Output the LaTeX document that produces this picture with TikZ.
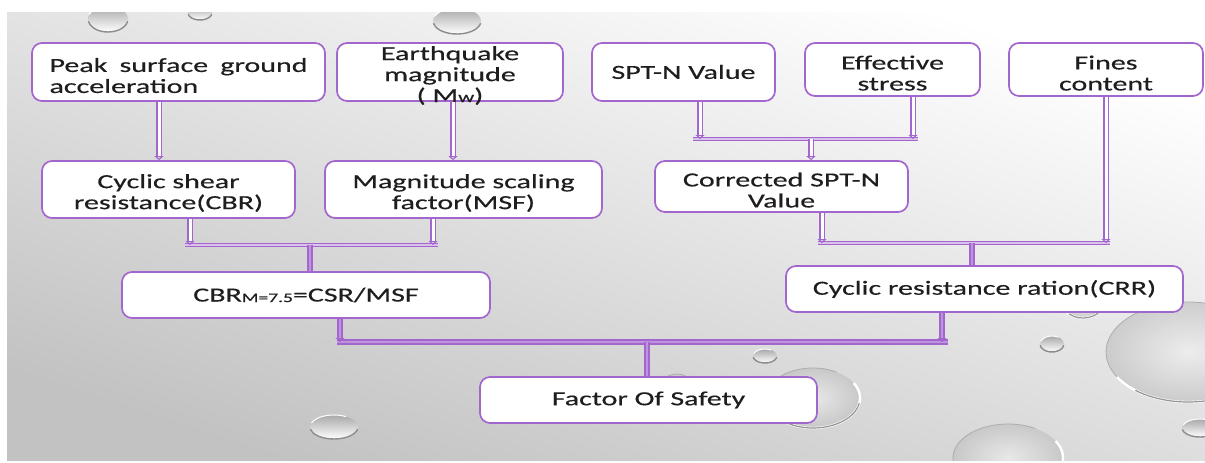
\documentclass[tikz,border=0pt]{standalone}
\usepackage{fontspec}
\setmainfont{Carlito}[FakeStretch=1.5, FakeBold=0.4]
\usetikzlibrary{arrows.meta,calc}
\definecolor{lin}{RGB}{162,102,206}
\definecolor{ink}{RGB}{30,30,30}

% small opaque water drop: centre, x radius, y radius
\newcommand\smalldrop[4]{%
  \shade[top color=black!34, bottom color=white] (#1,#2) ellipse [x radius=#3, y radius=#4];
  \draw[black!45, line width=1.4pt] ($(#1,#2)+(10:#3 and #4)$) arc [start angle=10, end angle=170, x radius=#3, y radius=#4];
  \draw[white, line width=1pt] ($(#1,#2)+(200:#3 and #4)$) arc [start angle=200, end angle=300, x radius=#3, y radius=#4];
}
% large clear bubble
\newcommand\bigdrop[4]{%
  \shade[inner color=black!6, outer color=black!24, opacity=.7] (#1,#2) ellipse [x radius=#3, y radius=#4];
  \draw[black!32, line width=.8pt] ($(#1,#2)+(150:#3 and #4)$) arc [start angle=150, end angle=300, x radius=#3, y radius=#4];
  \draw[white, line width=2.4pt] ($(#1,#2)+(330:#3 and #4)$) arc [start angle=330, end angle=510, x radius=#3, y radius=#4];
  \draw[black!42, line width=1.2pt] ($(#1,#2)+(10:#3 and #4)$) arc [start angle=10, end angle=130, x radius=#3, y radius=#4];
}
% first line strut: pushes multi-line labels a little lower in their boxes
\newcommand\lowstrut{\rule{0pt}{21pt}}

\begin{document}
\begin{tikzpicture}[x=1pt, y=-1pt,
  box/.style={draw=lin, line width=1.7pt, fill=white, rounded corners=10pt,
    text=ink, inner sep=0pt, align=center, font=\fontsize{20}{21}\selectfont},
  pipe/.style={draw=lin, line width=1.7pt, double=white, double distance=3pt},
  rod/.style={draw=lin, line width=1.9pt, double=lin!70, double distance=1.8pt},
  bar/.style={draw=lin, line width=1.4pt, double=lin!40, double distance=1.6pt},
  tip/.style={-{Triangle[open, length=4pt, width=9pt]}}
]
\useasboundingbox (0,0) rectangle (1205,463);
\fill[white] (0,0) rectangle (1205,463);
% slide background
\shade[top color=white, bottom color=black!24, shading angle=-18] (7,12) rectangle (1205,460);

\begin{scope}
  \clip (7,12) rectangle (1205,460);
  \smalldrop{108}{19}{20}{13}
  \smalldrop{200}{13}{12}{7}
  \smalldrop{457}{21}{24}{13}
  \smalldrop{334}{427}{24}{12}
  \smalldrop{765}{356}{12}{7}
  \smalldrop{1052}{344}{12}{8}
  \smalldrop{1200}{428}{18}{9}
  \bigdrop{813}{398}{47}{30}
  \bigdrop{677}{386}{16}{12}
  \bigdrop{1083}{300}{22}{18}
  \bigdrop{1188}{352}{82}{50}
  \bigdrop{1008}{458}{55}{34}
\end{scope}

% first row: inputs
\node[box, minimum width=293pt, minimum height=58pt] (pga) at (178.5,72)
  {\lowstrut\makebox[258pt][s]{Peak surface ground}\\\makebox[258pt][l]{acceleration}};
\node[box, minimum width=226pt, minimum height=58pt] (eqm) at (450,72)
  {\parbox[c][40pt][c]{210pt}{\centering\lowstrut Earthquake\\magnitude\\( M{\fontsize{15}{15}\selectfont w})}};
\node[box, minimum width=183pt, minimum height=58pt] (spt) at (683.5,72) {SPT-N Value};
\node[box, minimum width=175pt, minimum height=53pt] (eff) at (892.5,69.5) {\lowstrut Effective\\stress};
\node[box, minimum width=194pt, minimum height=53pt] (fin) at (1106,69.5) {\lowstrut Fines\\content};

% second row
\node[box, minimum width=253pt, minimum height=57pt] (csr) at (168.5,189.5) {\lowstrut Cyclic shear\\resistance(CBR)};
\node[box, minimum width=277pt, minimum height=57pt] (msf) at (463.5,189.5) {\lowstrut Magnitude scaling\\factor(MSF)};
\node[box, minimum width=253pt, minimum height=51pt] (cor) at (781.5,186.5) {\lowstrut Corrected SPT-N\\Value};

% third row
\node[box, minimum width=368pt, minimum height=46pt] (cbm) at (306,295)
  {CBR\raisebox{-.5pt}{\fontsize{13}{13}\selectfont M=7.5}=CSR/MSF};
\node[box, minimum width=397pt, minimum height=46pt] (crr) at (984.5,289) {Cyclic resistance ration(CRR)};

% result
\node[box, minimum width=337pt, minimum height=46pt] (fos) at (648.5,400) {Factor Of Safety};

% junction points of the collecting bars
\coordinate (aL) at (693,139);  \coordinate (aR) at (918,139);  \coordinate (jA) at (811,139);
\coordinate (bL) at (185,245);  \coordinate (bR) at (438,245);  \coordinate (jB) at (310,245);
\coordinate (cL) at (818,243);  \coordinate (cR) at (1110,243); \coordinate (jC) at (972,243);
\coordinate (dL) at (337,342);  \coordinate (dR) at (948,342);  \coordinate (jD) at (647,342);
% columns of the feeding pipes
\coordinate (k1) at (159,0);  \coordinate (k2) at (453,0);
\coordinate (k3) at (700,0);  \coordinate (k4) at (913,0);
\coordinate (k6) at (190,0);  \coordinate (k7) at (433,0);
\coordinate (k9) at (822,0);  \coordinate (k10) at (1106,0);
\coordinate (k12) at (340,0); \coordinate (k13) at (942,0);

% bars
\draw[bar] (aL) -- (aR);
\draw[bar] (bL) -- (bR);
\draw[bar] (cL) -- (cR);
\draw[rod] (dL) -- (dR);

% pipes into the bars and boxes
\draw[pipe, tip] (k1 |- pga.south) -- (k1 |- csr.north);
\draw[pipe, tip] (k2 |- eqm.south) -- (k2 |- msf.north);
\draw[pipe, tip] (k3 |- spt.south) -- (k3 |- aL);
\draw[pipe, tip] (k4 |- eff.south) -- (k4 |- aL);
\draw[pipe, tip] (jA) -- (jA |- cor.north);
\draw[pipe, tip] (k6 |- csr.south) -- (k6 |- bL);
\draw[pipe, tip] (k7 |- msf.south) -- (k7 |- bL);
\draw[rod] (jB) -- (jB |- cbm.north);
\draw[pipe, tip] (k9 |- cor.south) -- (k9 |- cL);
\draw[pipe, tip] (k10 |- fin.south) -- (k10 |- cL);
\draw[rod] (jC) -- (jC |- crr.north);
\draw[rod, tip] (k12 |- cbm.south) -- (k12 |- dL);
\draw[rod, tip] (k13 |- crr.south) -- (k13 |- dL);
\draw[rod] (jD) -- (jD |- fos.north);
\end{tikzpicture}
\end{document}
